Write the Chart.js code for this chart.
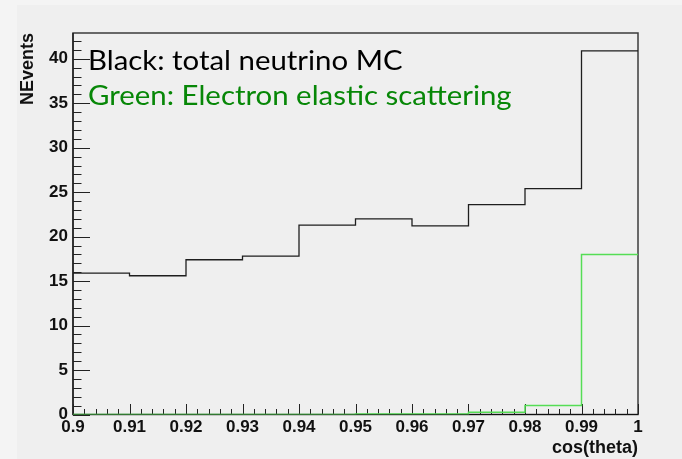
<!DOCTYPE html>
<html>
<head>
<meta charset="utf-8">
<script src="https://cdn.jsdelivr.net/npm/chart.js@4.4.1/dist/chart.umd.min.js"></script>
<style>
  html, body { margin: 0; padding: 0; background: #f4f4f4; }
  #wrap { width: 682px; height: 459px; }
</style>
</head>
<body>
<div id="wrap"><canvas id="c" width="682" height="459"></canvas></div>
<script>
// Histogram bins: lower edges of the cos(theta) bins, bin width 0.01
const binLowEdges = [0.90, 0.91, 0.92, 0.93, 0.94, 0.95, 0.96, 0.97, 0.98, 0.99];
const binUpperEdge = 1.0;
// Event counts per bin
const totalNeutrinoMC = [15.9, 15.6, 17.4, 17.8, 21.3, 22.0, 21.2, 23.6, 25.4, 40.9];
const electronElastic = [0, 0, 0, 0, 0, 0.05, 0.05, 0.25, 1.0, 18.0];
// Axis ticks
const xTickValues = [0.90, 0.91, 0.92, 0.93, 0.94, 0.95, 0.96, 0.97, 0.98, 0.99, 1.0];
const xTickLabels = ['0.9', '0.91', '0.92', '0.93', '0.94', '0.95', '0.96', '0.97', '0.98', '0.99', '1'];
const yTickValues = [0, 5, 10, 15, 20, 25, 30, 35, 40];
const yTickLabels = ['0', '5', '10', '15', '20', '25', '30', '35', '40'];
const yMax = 42.9;

// Step outline: each bin's value starts at its lower edge; closing point at the upper edge
function stepPoints(counts) {
  const pts = binLowEdges.map((x, i) => ({ x: x, y: counts[i] }));
  pts.push({ x: binUpperEdge, y: counts[counts.length - 1] });
  return pts;
}

const sansBold = '"Liberation Sans", Arial, sans-serif';
const tickFont = { family: sansBold, size: 17, weight: 'bold' };

// Canvas backdrop
const backdrop = {
  id: 'backdrop',
  beforeDraw(chart) {
    const ctx = chart.ctx;
    ctx.save();
    ctx.fillStyle = '#f4f4f4';
    ctx.fillRect(0, 0, chart.width, chart.height);
    ctx.fillStyle = '#efefef';
    ctx.fillRect(17, 5, chart.width - 17, chart.height - 5);
    ctx.restore();
  }
};

// Frame, inward-pointing major/minor ticks and the colour key text
const frameTicks = {
  id: 'frameTicks',
  beforeDatasetsDraw(chart) {
    const { ctx, chartArea: a, scales } = chart;
    const xs = scales.x, ys = scales.y;
    ctx.save();
    ctx.lineWidth = 1.5;
    ctx.strokeStyle = '#3c3c3c';
    ctx.strokeRect(a.left, a.top, a.right - a.left, a.bottom - a.top);
    ctx.lineWidth = 1.2;
    ctx.strokeStyle = '#111';
    ctx.beginPath();
    ctx.moveTo(a.left, a.top); ctx.lineTo(a.left, a.bottom); ctx.lineTo(a.right, a.bottom);
    ctx.stroke();
    // y ticks: major every 5, minor every 1
    ctx.lineWidth = 1;
    ctx.strokeStyle = '#222';
    ctx.beginPath();
    for (let v = 0; v <= 42; v += 1) {
      const py = Math.round(ys.getPixelForValue(v)) + 0.5;
      const len = (v % 5 === 0) ? 17 : 8.5;
      ctx.moveTo(a.left, py); ctx.lineTo(a.left + len, py);
    }
    // x ticks: major every 0.01, minor every 0.002
    for (let k = 0; k <= 50; k++) {
      const v = 0.9 + k * 0.002;
      const px = Math.round(xs.getPixelForValue(v)) + 0.5;
      const len = (k % 5 === 0) ? 10.5 : 5.5;
      ctx.moveTo(px, a.bottom); ctx.lineTo(px, a.bottom - len);
    }
    ctx.stroke();
    ctx.restore();
  },
  afterDraw(chart) {
    const ctx = chart.ctx;
    ctx.save();
    // slightly widened lettering
    ctx.translate(88, 0);
    ctx.scale(1.13, 1);
    ctx.font = '26px Lato, "Open Sans", sans-serif';
    ctx.textBaseline = 'alphabetic';
    ctx.fillStyle = '#000000';
    ctx.fillText('Black: total neutrino MC', 0, 69.5);
    ctx.fillStyle = '#078707';
    ctx.fillText('Green: Electron elastic scattering', 0, 105);
    ctx.restore();
  }
};

new Chart(document.getElementById('c'), {
  type: 'line',
  data: {
    datasets: [
      {
        label: 'Electron elastic scattering',
        data: stepPoints(electronElastic),
        borderColor: '#55dd55',
        borderWidth: 1.5,
        stepped: 'before',
        pointRadius: 0,
        fill: false
      },
      {
        label: 'Total neutrino MC',
        data: stepPoints(totalNeutrinoMC),
        borderColor: '#1e1e1e',
        borderWidth: 1.3,
        stepped: 'before',
        pointRadius: 0,
        fill: false
      }
    ]
  },
  options: {
    responsive: false,
    animation: false,
    layout: { padding: { left: 14, top: 33, right: 44, bottom: 0 } },
    plugins: { legend: { display: false }, tooltip: { enabled: false } },
    scales: {
      x: {
        type: 'linear',
        min: 0.9,
        max: 1.0,
        afterBuildTicks(scale) { scale.ticks = xTickValues.map(v => ({ value: v })); },
        afterFit(scale) { scale.height = 44.5; },
        grid: { display: false, drawTicks: false },
        border: { display: false },
        ticks: {
          autoSkip: false,
          maxRotation: 0,
          padding: 3,
          color: '#111',
          font: tickFont,
          callback: (value, index) => xTickLabels[index]
        },
        title: {
          display: true,
          text: 'cos(theta)',
          align: 'end',
          color: '#111',
          font: { family: sansBold, size: 18, weight: 'bold' },
          padding: { top: 1, bottom: 0 }
        }
      },
      y: {
        type: 'linear',
        min: 0,
        max: yMax,
        afterBuildTicks(scale) { scale.ticks = yTickValues.map(v => ({ value: v })); },
        afterFit(scale) { scale.width = 59; },
        grid: { display: false, drawTicks: false },
        border: { display: false },
        ticks: {
          padding: 5,
          color: '#111',
          font: tickFont,
          callback: (value, index) => yTickLabels[index]
        },
        title: {
          display: true,
          text: 'NEvents',
          align: 'end',
          color: '#111',
          font: { family: sansBold, size: 18, weight: 'bold' },
          padding: { top: 3, bottom: 0 }
        }
      }
    }
  },
  plugins: [backdrop, frameTicks]
});
</script>
</body>
</html>
